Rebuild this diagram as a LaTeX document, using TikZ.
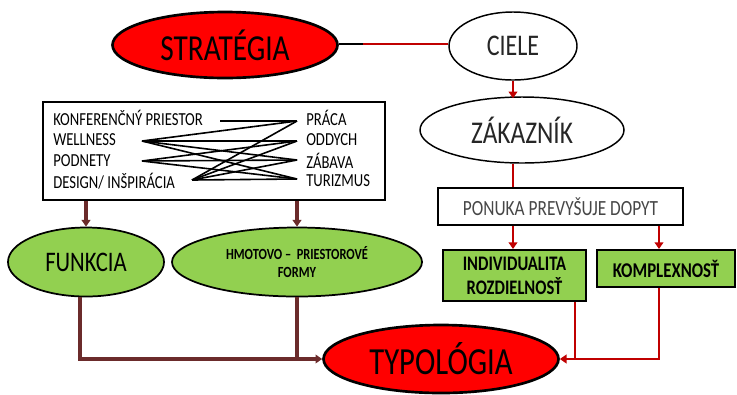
\documentclass[tikz,border=0pt]{standalone}
\usepackage{fontspec}
\setmainfont{Carlito}
\usetikzlibrary{shapes.geometric,arrows.meta,calc}
\definecolor{ellred}{HTML}{FF0000}
\definecolor{linered}{HTML}{C00000}
\definecolor{brownline}{HTML}{6B2B2B}
\definecolor{grn}{HTML}{92D050}
\definecolor{dgray}{HTML}{262626}
\newcommand{\vs}[1]{\scalebox{1}[1.25]{#1}}
\tikzset{
  redell/.style={ellipse,draw=black,line width=2pt,fill=ellred,inner sep=0pt},
  whiteell/.style={ellipse,draw=black,line width=1.1pt,fill=white,inner sep=0pt,text=dgray},
  greenell/.style={ellipse,draw=black,line width=1.3pt,fill=grn,inner sep=0pt},
  greenbox/.style={rectangle,draw=black,line width=1.5pt,fill=grn,inner sep=0pt,align=center},
  whitebox/.style={rectangle,draw=black,line width=1.1pt,fill=white,inner sep=0pt},
  itemtxt/.style={anchor=west,inner sep=0pt,font=\fontsize{11}{13}\selectfont},
  redarrow/.style={draw=linered,line width=2.1pt,-{Triangle[length=5pt,width=6.5pt]}},
  redline/.style={draw=linered,line width=2.1pt},
  brownarrow/.style={draw=brownline,line width=2.4pt,-{Triangle[length=5pt,width=6.5pt]}},
  brownline/.style={draw=brownline,line width=2.4pt},
  tangle/.style={draw=black,line width=1.2pt}
}
\begin{document}
\begin{tikzpicture}[x=0.75pt,y=-0.75pt]
\useasboundingbox (0,0) rectangle (737,394);

% top
\node[redell,minimum width=168.75pt,minimum height=49.5pt,font=\fontsize{22}{24}\selectfont] (str) at (225,45) {\vs{STRATÉGIA}};
\node[whiteell,minimum width=96pt,minimum height=51pt,font=\fontsize{18}{20}\selectfont] (cie) at (513,46) {\vs{CIELE}};
\node[whiteell,minimum width=153pt,minimum height=49.5pt,font=\fontsize{19}{21}\selectfont] (zak) at (522,130) {\vs{ZÁKAZNÍK}};
\node[whitebox,minimum width=183.75pt,minimum height=27.75pt,text=dgray!85,font=\fontsize{13}{15}\selectfont] (pon) at (560.5,206.5) {\vs{PONUKA PREVYŠUJE DOPYT}};
\node[greenbox,minimum width=107.25pt,minimum height=38.25pt,font=\bfseries\fontsize{12.4}{18}\selectfont] (ind) at (514.5,275.5) {\vs{INDIVIDUALITA}\\\vs{ROZDIELNOSŤ}};
\node[greenbox,minimum width=103.5pt,minimum height=27.75pt,font=\bfseries\fontsize{12.6}{15}\selectfont] (kom) at (666,268.5) {\vs{KOMPLEXNOSŤ}};
\node[redell,minimum width=176.25pt,minimum height=51pt,font=\fontsize{23}{25}\selectfont] (typ) at (441,359) {\vs{TYPOLÓGIA}};

% left
\node[whitebox,minimum width=256.5pt,minimum height=73.5pt] (box) at (214,151) {};
\node[itemtxt] (t1) at (53,118) {\vs{KONFERENČNÝ PRIESTOR}};
\node[itemtxt] (t2) at (53,139.5) {\vs{WELLNESS}};
\node[itemtxt] (t3) at (53,160.5) {\vs{PODNETY}};
\node[itemtxt] (t4) at (53,181) {\vs{DESIGN/ INŠPIRÁCIA}};
\node[itemtxt] (u1) at (306,118) {\vs{PRÁCA}};
\node[itemtxt] (u2) at (306,139.5) {\vs{ODDYCH}};
\node[itemtxt] (u3) at (306,160.5) {\vs{ZÁBAVA}};
\node[itemtxt] (u4) at (306,181) {\vs{TURIZMUS}};
\node[greenell,minimum width=117pt,minimum height=51.75pt,font=\fontsize{17}{19}\selectfont] (fun) at (86,262) {\vs{FUNKCIA}};
\node[greenell,minimum width=187.5pt,minimum height=51.75pt,align=center,font=\bfseries\fontsize{9.3}{14}\selectfont] (hmo) at (297,262) {\vs{HMOTOVO –\ \ PRIESTOROVÉ}\\\vs{FORMY}};

% tangle points
\coordinate (k) at (220,121);
\coordinate (w) at (142,141);
\coordinate (p) at (142,161);
\coordinate (d) at (192,180);
\coordinate (pr) at (297,121);
\coordinate (od) at (297,141);
\coordinate (za) at (297,160);
\coordinate (tu) at (297,179);
\draw[tangle] (k) -- (pr);
\draw[tangle] (w) -- (pr);
\draw[tangle] (w) -- (od);
\draw[tangle] (w) -- (za);
\draw[tangle] (w) -- (tu);
\draw[tangle] (p) -- (od);
\draw[tangle] (p) -- (za);
\draw[tangle] (p) -- (tu);
\draw[tangle] (d) -- (pr);
\draw[tangle] (d) -- (od);
\draw[tangle] (d) -- (za);
\draw[tangle] (d) -- (tu);

% connectors right side
\coordinate (ax) at (513,0);
\coordinate (ix) at (575,0);
\coordinate (kx) at (659,0);
\coordinate (sj) at (363,44);
\draw[redline] (str.east |- sj) -- (cie.west |- sj);
\draw[draw=black,line width=1.6pt] (str.east |- sj) -- (sj);
\draw[redarrow] (ax |- cie.south) -- ($(ax |- zak.north)+(0,2)$);
\draw[redline] (ax |- zak.south) -- (ax |- pon.north);
\draw[redarrow] (ax |- pon.south) -- (ax |- ind.north);
\draw[redarrow] (kx |- pon.south) -- (kx |- kom.north);
\draw[redline] (ix |- ind.south) -- (ix |- typ.east);
\draw[redarrow] (kx |- kom.south) -- (kx |- typ.east) -- (typ.east);

% connectors left side
\draw[brownarrow] (fun.north |- box.south) -- (fun.north);
\draw[brownarrow] (hmo.north |- box.south) -- (hmo.north);
\draw[brownline] (hmo.south) -- (hmo.south |- typ.west);
\draw[brownarrow] ([xshift=-4.5pt]fun.south) -- ([xshift=-4.5pt]fun.south |- typ.west) -- (typ.west);
\end{tikzpicture}
\end{document}
